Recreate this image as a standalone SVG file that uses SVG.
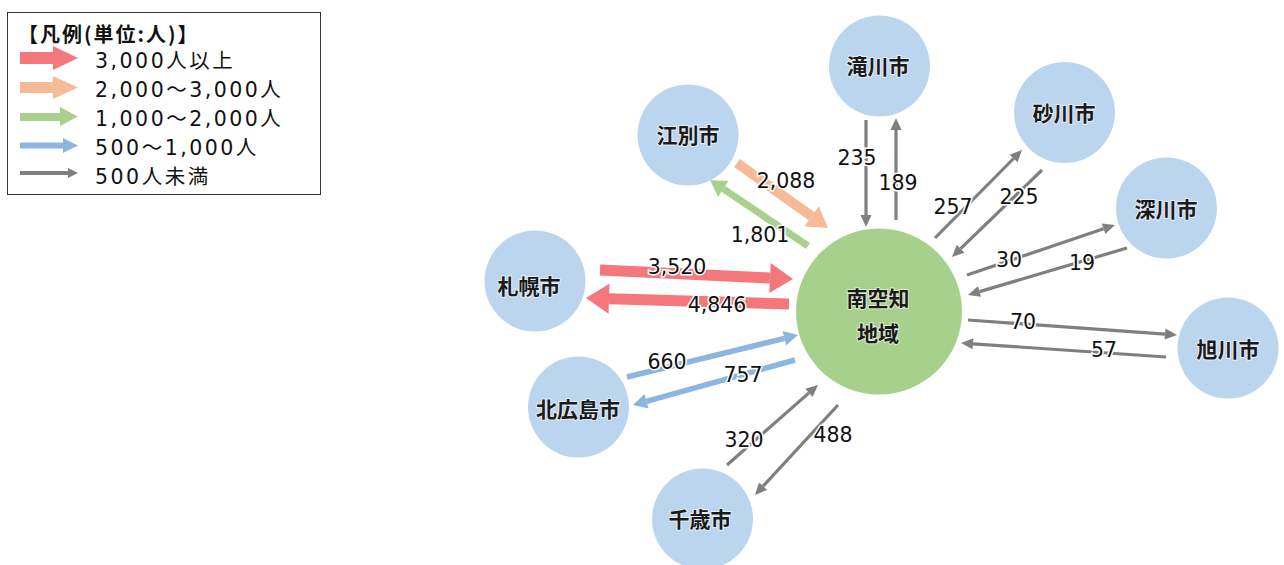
<svg xmlns="http://www.w3.org/2000/svg" width="1284" height="565" viewBox="0 0 1284 565">
<style>
.cj{font-family:"Noto Sans CJK JP","Noto Sans",sans-serif}
.num{font-family:"DejaVu Sans","Noto Sans CJK JP",sans-serif}
.leg{font-size:20.5px;fill:#111;letter-spacing:2.5px}
.ttl{font-size:20px;font-weight:bold;fill:#111;letter-spacing:2px}
.city{fill:#bcd5ee}
.ctr{fill:#a8d08d}
.nl{font-size:21px;font-weight:bold;fill:#1a1a1a;text-anchor:middle;stroke:#fff;stroke-width:2;stroke-opacity:0.6;paint-order:stroke}
.lab{font-size:20.5px;fill:#111;text-anchor:middle;stroke:#fff;stroke-width:3;paint-order:stroke}
.r{stroke:#f4777c;stroke-width:11;fill:none}
.o{stroke:#f5bb96;stroke-width:10;fill:none}
.g{stroke:#a9d18e;stroke-width:7;fill:none}
.b{stroke:#8cb5e0;stroke-width:5.5;fill:none}
.k{stroke:#7f7f7f;stroke-width:3.2;fill:none}
</style>
<defs>
<marker id="mr" markerUnits="userSpaceOnUse" markerWidth="30" markerHeight="34" refX="0" refY="0" viewBox="0 -17 30 34" orient="auto" overflow="visible"><path d="M0,-15 L23,0 L0,15 Z" fill="#f4777c"/></marker>
<marker id="mo" markerUnits="userSpaceOnUse" markerWidth="30" markerHeight="34" refX="0" refY="0" viewBox="0 -17 30 34" orient="auto" overflow="visible"><path d="M0,-12.5 L20,0 L0,12.5 Z" fill="#f5bb96"/></marker>
<marker id="mg" markerUnits="userSpaceOnUse" markerWidth="30" markerHeight="34" refX="0" refY="0" viewBox="0 -17 30 34" orient="auto" overflow="visible"><path d="M0,-9.5 L16,0 L0,9.5 Z" fill="#a9d18e"/></marker>
<marker id="mb" markerUnits="userSpaceOnUse" markerWidth="30" markerHeight="34" refX="0" refY="0" viewBox="0 -17 30 34" orient="auto" overflow="visible"><path d="M0,-7.5 L14,0 L0,7.5 Z" fill="#8cb5e0"/></marker>
<marker id="mk" markerUnits="userSpaceOnUse" markerWidth="30" markerHeight="34" refX="0" refY="0" viewBox="0 -17 30 34" orient="auto" overflow="visible"><path d="M0,-5.5 L12,0 L0,5.5 Z" fill="#7f7f7f"/></marker>
</defs>
<rect width="1284" height="565" fill="#fff"/>

<g id="legend">
<rect x="7.5" y="12.5" width="313" height="182" fill="#fff" stroke="#333" stroke-width="1"/>
<text class="cj ttl" x="18" y="42">【凡例(単位:人)】</text>
<polygon points="20,52 53,52 53,46 78,58 53,70 53,64 20,64" fill="#f4777c"/>
<polygon points="20,82 53,82 53,76 78,87.5 53,99 53,93 20,93" fill="#f5bb96"/>
<polygon points="20,113 60,113 60,107 78,116.5 60,126 60,121 20,121" fill="#a9d18e"/>
<polygon points="20,142.5 63,142.5 63,138 78,145.5 63,153 63,148.5 20,148.5" fill="#8cb5e0"/>
<polygon points="20,171 68,171 68,168 78,173 68,178 68,175 20,175" fill="#7f7f7f"/>
<text class="num leg" x="95" y="68">3,000人以上</text>
<text class="num leg" x="95" y="97">2,000～3,000人</text>
<text class="num leg" x="95" y="126">1,000～2,000人</text>
<text class="num leg" x="95" y="155">500～1,000人</text>
<text class="num leg" x="95" y="184">500人未満</text>
</g>

<g id="node-minamisorachi"><circle class="ctr" cx="879" cy="311.5" r="83"/><text class="cj nl" x="878" y="306">南空知</text><text class="cj nl" x="878" y="341">地域</text></g>
<g id="node-takikawa"><circle class="city" cx="879.5" cy="66" r="50.5"/><text class="cj nl" x="878" y="74">滝川市</text></g>
<g id="node-sunagawa"><circle class="city" cx="1064.5" cy="112.5" r="50.5"/><text class="cj nl" x="1064" y="121">砂川市</text></g>
<g id="node-fukagawa"><circle class="city" cx="1166.5" cy="208" r="50.5"/><text class="cj nl" x="1166" y="217">深川市</text></g>
<g id="node-asahikawa"><circle class="city" cx="1228" cy="348" r="50.5"/><text class="cj nl" x="1228" y="357">旭川市</text></g>
<g id="node-ebetsu"><circle class="city" cx="688" cy="135" r="50.5"/><text class="cj nl" x="688" y="143">江別市</text></g>
<g id="node-sapporo"><circle class="city" cx="535" cy="281" r="50.5"/><text class="cj nl" x="529" y="294">札幌市</text></g>
<g id="node-kitahiroshima"><circle class="city" cx="578.5" cy="407" r="50.5"/><text class="cj nl" x="578" y="417">北広島市</text></g>
<g id="node-chitose"><circle class="city" cx="702.5" cy="519" r="50.5"/><text class="cj nl" x="700" y="527">千歳市</text></g>

<g id="connectors">
<line class="r" x1="600" y1="270" x2="770" y2="278" marker-end="url(#mr)"/>
<line class="r" x1="789" y1="304" x2="609" y2="298.7" marker-end="url(#mr)"/>
<line class="o" x1="737" y1="163" x2="811.7" y2="216.4" marker-end="url(#mo)"/>
<line class="g" x1="808" y1="246" x2="723.3" y2="188.9" marker-end="url(#mg)"/>
<line class="b" x1="627" y1="377" x2="784.4" y2="338.3" marker-end="url(#mb)"/>
<line class="b" x1="795" y1="360" x2="646.5" y2="401.3" marker-end="url(#mb)"/>
<line class="k" x1="866" y1="120" x2="866" y2="215" marker-end="url(#mk)"/>
<line class="k" x1="896" y1="220" x2="896" y2="130" marker-end="url(#mk)"/>
<line class="k" x1="935" y1="238" x2="1013.6" y2="158.5" marker-end="url(#mk)"/>
<line class="k" x1="1042" y1="170" x2="960.6" y2="248.7" marker-end="url(#mk)"/>
<line class="k" x1="967" y1="275" x2="1103.6" y2="228.8" marker-end="url(#mk)"/>
<line class="k" x1="1127" y1="248" x2="979.5" y2="291.6" marker-end="url(#mk)"/>
<line class="k" x1="968" y1="320" x2="1165" y2="334.1" marker-end="url(#mk)"/>
<line class="k" x1="1166" y1="357" x2="973" y2="343.8" marker-end="url(#mk)"/>
<line class="k" x1="727" y1="465" x2="809" y2="392.9" marker-end="url(#mk)"/>
<line class="k" x1="838" y1="405" x2="763.1" y2="486.2" marker-end="url(#mk)"/>
</g>

<g id="labels">
<text class="num lab" x="677" y="274">3,520</text>
<text class="num lab" x="717" y="312">4,846</text>
<text class="num lab" x="786" y="188">2,088</text>
<text class="num lab" x="760" y="242">1,801</text>
<text class="num lab" x="667" y="369">660</text>
<text class="num lab" x="743" y="382">757</text>
<text class="num lab" x="857" y="165">235</text>
<text class="num lab" x="898" y="190">189</text>
<text class="num lab" x="953" y="214">257</text>
<text class="num lab" x="1019" y="204">225</text>
<text class="num lab" x="1009" y="267">30</text>
<text class="num lab" x="1082" y="270">19</text>
<text class="num lab" x="1023" y="329">70</text>
<text class="num lab" x="1104" y="357">57</text>
<text class="num lab" x="744" y="447">320</text>
<text class="num lab" x="833" y="442">488</text>
</g>
</svg>
